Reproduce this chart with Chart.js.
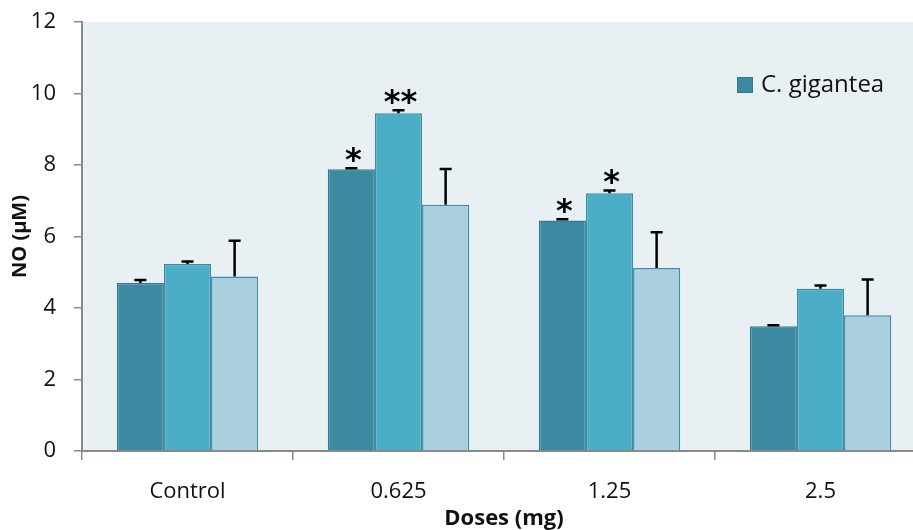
<!DOCTYPE html>
<html>
<head>
<meta charset="utf-8">
<script src="https://cdn.jsdelivr.net/npm/chart.js@4"></script>
<style>
  html, body { margin: 0; padding: 0; background: #fff; overflow: hidden; }
  canvas { display: block; }
</style>
</head>
<body>
<canvas id="noChart" width="926" height="530"></canvas>
<script>
const doses = ['Control', '0.625', '1.25', '2.5'];
const seriesA = [4.70, 7.88, 6.45, 3.49];
const seriesB = [5.23, 9.45, 7.21, 4.54];
const seriesC = [4.88, 6.89, 5.12, 3.80];
const errA = [0.08, 0.03, 0.03, 0.03];
const errB = [0.07, 0.08, 0.08, 0.09];
const errC = [1.0, 1.0, 1.0, 1.0];
const sigA = ['', '*', '*', ''];
const sigB = ['', '**', '*', ''];
const sigC = ['', '', '', ''];
const yTicks = [0, 2, 4, 6, 8, 10, 12];

const errors = [errA, errB, errC];
const stars = [sigA, sigB, sigC];
const tickFont = { family: 'Open Sans', size: 22 };

// plot background
const plotBg = {
  id: 'plotBg',
  beforeDraw(chart) {
    const { ctx, chartArea: a } = chart;
    ctx.save();
    ctx.fillStyle = '#E8F0F4';
    ctx.fillRect(a.left, a.top, a.right - a.left, a.bottom - a.top);
    ctx.restore();
  }
};

// error bars (upper only) and significance stars
const errorBars = {
  id: 'errorBars',
  afterDatasetsDraw(chart) {
    const ctx = chart.ctx;
    const y = chart.scales.y;
    ctx.save();
    chart.data.datasets.forEach((ds, i) => {
      const meta = chart.getDatasetMeta(i);
      meta.data.forEach((bar, j) => {
        const top = y.getPixelForValue(ds.data[j] + errors[i][j]);
        ctx.strokeStyle = '#000';
        ctx.lineWidth = 2.5;
        ctx.beginPath();
        ctx.moveTo(bar.x, bar.y);
        ctx.lineTo(bar.x, top);
        ctx.moveTo(bar.x - 6, top);
        ctx.lineTo(bar.x + 6, top);
        ctx.stroke();
        const s = stars[i][j];
        if (s) {
          ctx.font = 'bold 32px "DejaVu Sans"';
          ctx.fillStyle = '#000';
          ctx.textAlign = 'center';
          ctx.textBaseline = 'alphabetic';
          const m = ctx.measureText(s);
          ctx.fillText(s, bar.x + 2, top - 6 - m.actualBoundingBoxDescent);
        }
      });
    });
    ctx.restore();
  }
};

// legend inside the plot, first series only
const insideLegend = {
  id: 'insideLegend',
  afterDraw(chart) {
    const { ctx, chartArea: a } = chart;
    const ds = chart.data.datasets[0];
    const x = a.right - 189, yc = 85;
    ctx.save();
    ctx.fillStyle = ds.backgroundColor;
    ctx.strokeStyle = ds.borderColor;
    ctx.lineWidth = 1;
    ctx.fillRect(x, yc - 8, 16, 16);
    ctx.strokeRect(x + 0.5, yc - 7.5, 15, 15);
    ctx.fillStyle = '#111';
    ctx.font = '24px "Open Sans"';
    ctx.textAlign = 'left';
    ctx.textBaseline = 'middle';
    ctx.fillText(ds.label, x + 24, yc);
    ctx.restore();
  }
};

const ctx = document.getElementById('noChart');
const noChart = new Chart(ctx, {
  type: 'bar',
  data: {
    labels: doses,
    datasets: [{
      label: 'C. gigantea',
      data: seriesA,
      backgroundColor: '#3C8AA1',
      borderColor: '#2F7B91',
      borderWidth: 1.5
    },
    {
      label: 'Series 2',
      data: seriesB,
      backgroundColor: '#4BADC6',
      borderColor: '#3A8CA4',
      borderWidth: 1.5
    },
    {
      label: 'Series 3',
      data: seriesC,
      backgroundColor: '#AACFDF',
      borderColor: '#3E8CA5',
      borderWidth: 1.5
    }]
  },
  options: {
    responsive: false,
    animation: false,
    categoryPercentage: 0.67,
    barPercentage: 1.0,
    layout: { padding: { top: 22, right: 0, left: 0, bottom: 0 } },
    scales: {
      x: {
        afterFit(scale) { scale.height = 79; },
        grid: {
          offset: true,
          drawOnChartArea: false,
          tickLength: 9,
          color: '#898989',
          lineWidth: 1.5
        },
        border: { color: '#898989', width: 2 },
        ticks: { font: tickFont, color: '#111', padding: 19 },
        title: {
          display: true,
          text: 'Doses (mg)',
          font: { family: 'Open Sans', size: 22, weight: 'bold', lineHeight: 1 },
          color: '#111',
          padding: { top: 0, bottom: 0 }
        }
      },
      y: {
        min: 0,
        max: 12,
        afterFit(scale) {
          scale.width = 82;
          scale.paddingTop = 0;
          scale.paddingBottom = 0;
        },
        afterBuildTicks(scale) { scale.ticks = yTicks.map(v => ({ value: v })); },
        grid: {
          drawOnChartArea: false,
          tickLength: 8,
          color: '#898989',
          lineWidth: 1.5
        },
        border: { color: '#898989', width: 2 },
        ticks: { font: tickFont, color: '#111', padding: 18 },
        title: {
          display: true,
          text: 'NO (µM)',
          font: { family: 'Open Sans', size: 20, weight: 'bold', lineHeight: 1 },
          color: '#111',
          padding: { top: 10, bottom: 0 }
        }
      }
    },
    plugins: {
      legend: { display: false },
      tooltip: { enabled: false }
    }
  },
  plugins: [plotBg, errorBars, insideLegend]
});
</script>
</body>
</html>
